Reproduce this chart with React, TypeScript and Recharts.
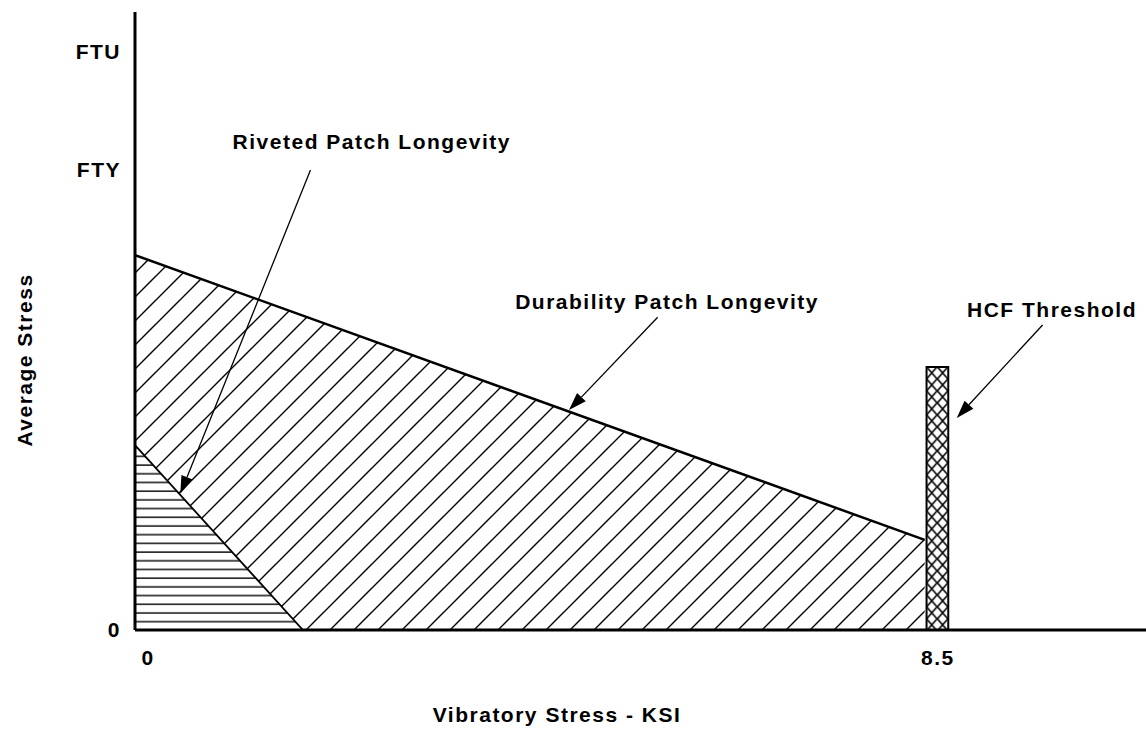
import React from "react";
import {
  ComposedChart,
  Area,
  XAxis,
  YAxis,
  ReferenceArea,
  ReferenceLine,
  ReferenceDot,
  Label,
} from "recharts";

// vibratory stress (ksi) vs average stress (arbitrary units, FTY = 100)
const durabilityX = [0, 8.37];
const durabilityY = [81.5, 19.6];
const rivetedX = [0, 1.78];
const rivetedY = [40.2, 0];

// HCF threshold band
const hcfRange = [8.39, 8.62];
const hcfHeight = 57.2;

const xTicks = [0, 8.5];
const xTickLabels = ["0", "8.5"];
const yTicks = [0, 100, 125.7];
const yTickLabels = ["0", "FTY", "FTU"];

// callouts
const noteText = ["Riveted Patch Longevity", "Durability Patch Longevity", "HCF Threshold"];
const noteX = [2.51, 5.64, 9.72];
const noteY = [106.1, 71.3, 69.6];
const arrowFromX = [1.86, 5.54, 9.62];
const arrowFromY = [100, 68.0, 66.3];
const arrowToX = [0.48, 4.6, 8.71];
const arrowToY = [29.6, 47.8, 46.1];

const durData = durabilityX.map((x, i) => ({ x, y: durabilityY[i] }));
const rivData = rivetedX.map((x, i) => ({ x, y: rivetedY[i] }));

const FONT = "'Liberation Sans', Arial, Helvetica, sans-serif";
const txt = {
  fontFamily: FONT,
  fontWeight: 700,
  fontSize: 21,
  letterSpacing: 1.5,
  fill: "#000",
};

function Arrow(props: any) {
  const { x1, y1, x2, y2 } = props;
  const a = Math.atan2(y2 - y1, x2 - x1);
  const len = 18;
  const w = 6;
  const bx = x2 - len * Math.cos(a);
  const by = y2 - len * Math.sin(a);
  const px = -Math.sin(a) * w;
  const py = Math.cos(a) * w;
  return (
    <g>
      <line x1={x1} y1={y1} x2={bx} y2={by} stroke="#000" strokeWidth={1.3} />
      <polygon
        points={`${x2},${y2} ${bx + px},${by + py} ${bx - px},${by - py}`}
        fill="#000"
      />
    </g>
  );
}

function XTick(props: any) {
  const { x, y, payload } = props;
  const i = xTicks.indexOf(payload.value);
  const dx = payload.value === 0 ? 13 : 1;
  return (
    <text x={x + dx} y={y} dy="0.71em" textAnchor="middle" style={txt}>
      {xTickLabels[i]}
    </text>
  );
}

function YTick(props: any) {
  const { x, y, payload } = props;
  const i = yTicks.indexOf(payload.value);
  return (
    <text x={x} y={y} dy="0.35em" textAnchor="end" style={txt}>
      {yTickLabels[i]}
    </text>
  );
}

export default function App() {
  return (
    <div style={{ position: "absolute", left: 0, top: 0, background: "#fff" }}>
      <ComposedChart
        width={1146}
        height={731}
        margin={{ top: 12, right: 0, bottom: 0, left: 0 }}
      >
        <defs>
          <pattern id="diag" patternUnits="userSpaceOnUse" width="24" height="24">
            <rect width="24" height="24" fill="#fff" />
            <path
              d="M-6,6 L6,-6 M0,24 L24,0 M18,30 L30,18"
              stroke="#000"
              strokeWidth="1.4"
            />
          </pattern>
          <pattern id="horiz" patternUnits="userSpaceOnUse" width="20" height="8.7">
            <rect width="20" height="8.7" fill="#fff" />
            <line x1="0" y1="4" x2="20" y2="4" stroke="#000" strokeWidth="1.4" />
          </pattern>
          <pattern
            id="cross"
            patternUnits="objectBoundingBox"
            patternContentUnits="userSpaceOnUse"
            width="0.5"
            height="0.0456"
          >
            <rect width="12" height="12" fill="#fff" />
            <path d="M0,0 L10.5,12 M10.5,0 L0,12" stroke="#000" strokeWidth="1.6" />
          </pattern>
        </defs>
        <XAxis
          dataKey="x"
          type="number"
          domain={[0, 10.716]}
          ticks={xTicks}
          allowDataOverflow
          height={101}
          tickSize={0}
          tickMargin={20}
          tickLine={false}
          axisLine={{ stroke: "#000", strokeWidth: 3 }}
          tick={<XTick />}
        >
          <Label
            content={(p: any) => (
              <text
                x={p.viewBox.x + 422}
                y={p.viewBox.y + 85}
                dy="0.35em"
                textAnchor="middle"
                style={txt}
              >
                Vibratory Stress - KSI
              </text>
            )}
          />
        </XAxis>
        <YAxis
          type="number"
          domain={[0, 134.35]}
          ticks={yTicks}
          allowDataOverflow
          width={135}
          tickSize={0}
          tickMargin={14}
          tickLine={false}
          axisLine={{ stroke: "#000", strokeWidth: 3 }}
          tick={<YTick />}
        >
          <Label
            content={(p: any) => (
              <text
                x={25}
                y={360}
                transform="rotate(-90 25 360)"
                dy="0.35em"
                textAnchor="middle"
                style={txt}
              >
                Average Stress
              </text>
            )}
          />
        </YAxis>
        <Area
          data={durData}
          dataKey="y"
          type="linear"
          baseValue={0}
          stroke="#000"
          strokeWidth={2.5}
          fill="url(#diag)"
          fillOpacity={1}
          dot={false}
          activeDot={false}
          isAnimationActive={false}
        />
        <Area
          data={rivData}
          dataKey="y"
          type="linear"
          baseValue={0}
          stroke="#000"
          strokeWidth={1.8}
          fill="url(#horiz)"
          fillOpacity={1}
          dot={false}
          activeDot={false}
          isAnimationActive={false}
        />
        <ReferenceArea
          x1={hcfRange[0]}
          x2={hcfRange[1]}
          y1={0}
          y2={hcfHeight}
          fill="url(#cross)"
          fillOpacity={1}
          stroke="#000"
          strokeWidth={2}
        />
        {noteText.map((t, i) => (
          <ReferenceLine
            key={"a" + i}
            segment={[
              { x: arrowFromX[i], y: arrowFromY[i] },
              { x: arrowToX[i], y: arrowToY[i] },
            ]}
            shape={Arrow}
          />
        ))}
        {noteText.map((t, i) => (
          <ReferenceDot
            key={"n" + i}
            x={noteX[i]}
            y={noteY[i]}
            r={0}
            shape={(p: any) => (
              <text x={p.cx} y={p.cy} dy="0.35em" textAnchor="middle" style={txt}>
                {t}
              </text>
            )}
          />
        ))}
      </ComposedChart>
    </div>
  );
}
